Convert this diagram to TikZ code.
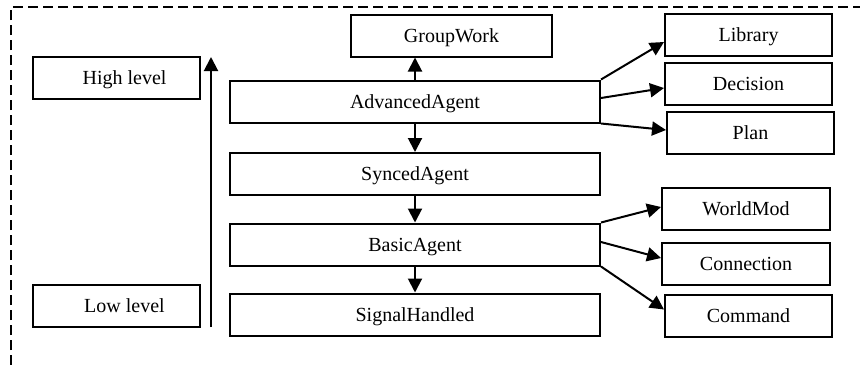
\documentclass[tikz,border=0pt]{standalone}
\usepackage{fontspec}
\setmainfont{Liberation Serif}
\usetikzlibrary{arrows.meta,positioning}

\tikzset{
  caja/.style={draw, line width=1pt, inner sep=0pt, minimum height=21pt, text depth=0pt, font=\fontsize{10}{12}\selectfont},
  cajaL/.style={caja, minimum width=83.5pt},
  cajaC/.style={caja, minimum width=185pt},
  flecha/.style={line width=1pt, -{Triangle[length=7pt,width=7pt]}}
}

\begin{document}
\begin{tikzpicture}[x=0.5pt,y=-0.5pt]
  \useasboundingbox (0,0) rectangle (860,364);
  % Marco punteado
  \draw[line width=0.9pt, dash pattern=on 5pt off 2.5pt] (11,380) -- (11,7) -- (875,7);

  % Niveles
  \node[cajaL] (high) at (116.5,78) {\hspace*{8pt}High level};
  \node[cajaL] (low) at (116.5,305.5) {\hspace*{8pt}Low level};
  \coordinate (lowend) at (211,327);
  \coordinate (highend) at (211,57);
  \draw[flecha] (lowend) -- (highend);

  % Columna central
  \node[caja, minimum width=100.5pt] (group) at (451.5,35.5) {GroupWork};
  \node[cajaC] (adv) at (415,101.5) {AdvancedAgent};
  \node[cajaC] (sync) at (415,174) {SyncedAgent};
  \node[cajaC] (basic) at (415,244.5) {BasicAgent};
  \node[cajaC] (signal) at (415,314.5) {SignalHandled};

  \draw[flecha] (adv.north) -- (adv.north |- group.south);
  \draw[flecha] (adv) -- (sync);
  \draw[flecha] (sync) -- (basic);
  \draw[flecha] (basic) -- (signal);

  % Columna derecha
  \node[cajaL] (lib) at (748.5,34.5) {Library};
  \node[cajaL] (dec) at (748.5,84) {Decision};
  \node[cajaL] (plan) at (750.5,133) {Plan};
  \node[caja, minimum width=84pt] (world) at (746,209) {WorldMod};
  \node[caja, minimum width=84pt] (conn) at (746,263.5) {Connection};
  \node[cajaL] (cmd) at (748.5,315.5) {Command};

  \draw[flecha] (adv.north east) -- ([yshift=-3.75pt]lib.west);
  \draw[flecha] ([yshift=1.75pt]adv.east) -- ([yshift=-2pt]dec.west);
  \draw[flecha] (adv.south east) -- ([yshift=1.5pt]plan.west);
  \draw[flecha] (basic.north east) -- ([yshift=1pt]world.west);
  \draw[flecha] ([yshift=1.25pt]basic.east) -- ([yshift=2.75pt]conn.west);
  \draw[flecha] (basic.south east) -- ([yshift=3pt]cmd.west);
\end{tikzpicture}
\end{document}
